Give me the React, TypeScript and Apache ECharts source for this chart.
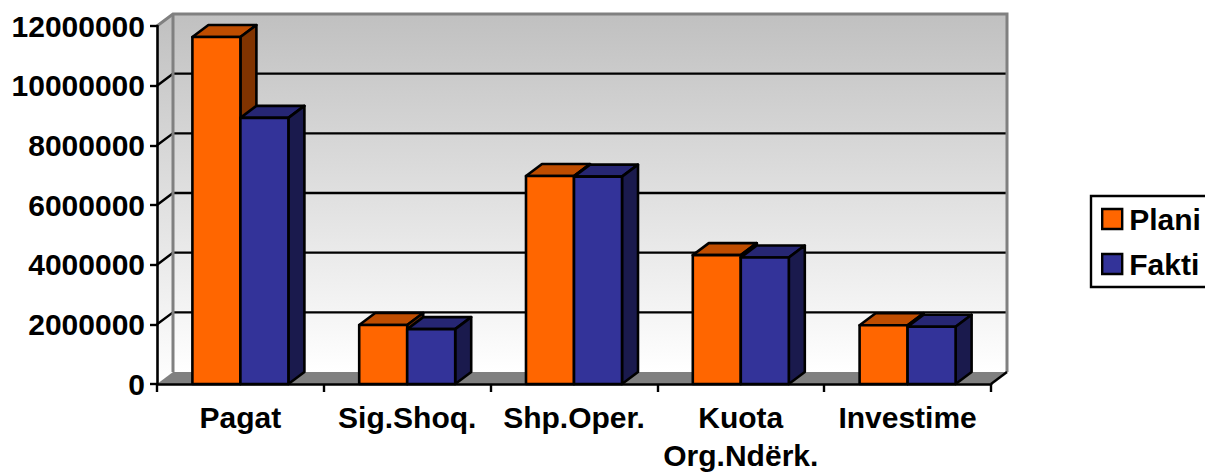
import React, { useEffect, useRef } from "react";
import * as echarts from "echarts";

const categories = ["Pagat", "Sig.Shoq.", "Shp.Oper.", "Kuota\nOrg.Ndërk.", "Investime"];
const plani = [11630000, 1980000, 6970000, 4320000, 1970000];
const fakti = [8920000, 1840000, 6950000, 4240000, 1920000];
const gridTicks = [2000000, 4000000, 6000000, 8000000, 10000000];

const DX = 16;
const DY = -12;
const BAR_W = 48;
const FONT = '"Liberation Sans", Arial, sans-serif';

const wallGradient = () =>
  new echarts.graphic.LinearGradient(0, 0, 0, 1, [
    { offset: 0, color: "#C0C0C0" },
    { offset: 1, color: "#FFFFFF" },
  ]);

function barRenderer(front: string, top: string, side: string, slot: number) {
  return (_: any, api: any) => {
    const idx = api.value(0);
    const [cx, yTop] = api.coord([idx, api.value(1)]);
    const [, yBase] = api.coord([idx, 0]);
    const x0 = cx + (slot - 1) * BAR_W;
    const x1 = x0 + BAR_W;
    const line = { stroke: "#000", lineWidth: 2.6, lineJoin: "round" };
    return {
      type: "group",
      children: [
        { type: "polygon", shape: { points: [[x0, yTop], [x1, yTop], [x1 + DX, yTop + DY], [x0 + DX, yTop + DY]] }, style: { fill: top, ...line } },
        { type: "polygon", shape: { points: [[x1, yTop], [x1 + DX, yTop + DY], [x1 + DX, yBase + DY], [x1, yBase]] }, style: { fill: side, ...line } },
        { type: "polygon", shape: { points: [[x0, yTop], [x1, yTop], [x1, yBase], [x0, yBase]] }, style: { fill: front, ...line } },
      ],
    };
  };
}

function wallRenderer(params: any, api: any) {
  const { x, y, width, height } = params.coordSys;
  const b = y + height;
  const r = x + width;
  const gray = { stroke: "#808080", lineWidth: 3 };
  const grid = gridTicks.map((t) => {
    const py = api.coord([0, t])[1];
    return {
      type: "polyline",
      shape: { points: [[x, py], [x + DX, py + DY], [r + DX, py + DY]] },
      style: { fill: "none", stroke: "#000", lineWidth: 2.4 },
    };
  });
  return {
    type: "group",
    children: [
      { type: "polygon", shape: { points: [[x + DX, y + DY], [r + DX, y + DY], [r + DX, b + DY], [x + DX, b + DY]] }, style: { fill: wallGradient() } },
      { type: "polygon", shape: { points: [[x, y], [x + DX, y + DY], [x + DX, b + DY], [x, b]] }, style: { fill: wallGradient() } },
      ...grid,
      { type: "polyline", shape: { points: [[x, y], [x + DX, y + DY], [r + DX, y + DY], [r + DX, b + DY]] }, style: { fill: "none", ...gray } },
      { type: "line", shape: { x1: x + DX, y1: y + DY, x2: x + DX, y2: b + DY }, style: { ...gray } },
      { type: "polygon", shape: { points: [[x, b], [x + DX, b + DY], [r + DX, b + DY], [r, b]] }, style: { fill: "#808080" } },
      { type: "line", shape: { x1: r, y1: b, x2: r + DX, y2: b + DY }, style: { stroke: "#000", lineWidth: 2.4 } },
    ],
  };
}

export default function App() {
  const ref = useRef<HTMLDivElement>(null);
  useEffect(() => {
    document.body.style.margin = "0";
    const chart = echarts.init(ref.current!, undefined, { renderer: "svg" });
    chart.setOption({
      animation: false,
      backgroundColor: "#fff",
      textStyle: { fontFamily: FONT },
      grid: { left: 157, top: 26, width: 834, height: 358, outerBoundsMode: "none", containLabel: false },
      legend: {
        data: ["Plani", "Fakti"],
        orient: "vertical",
        left: 1091,
        top: 196,
        padding: [8, 30, 8, 10],
        itemGap: 15,
        itemWidth: 20,
        itemHeight: 20,
        icon: "rect",
        borderColor: "#000",
        borderWidth: 2.4,
        backgroundColor: "#fff",
        textStyle: { color: "#000", fontSize: 30, fontWeight: "bold", fontFamily: FONT, padding: [0, 0, 0, 2] },
        itemStyle: { borderColor: "#000", borderWidth: 2.4 },
      },
      xAxis: {
        type: "category",
        data: categories,
        axisLine: { show: true, lineStyle: { color: "#000", width: 2.6 } },
        axisTick: { show: true, length: 8, lineStyle: { color: "#000", width: 2.4 } },
        axisLabel: { color: "#000", fontSize: 30, fontWeight: "bold", fontFamily: FONT, margin: 14, lineHeight: 38, interval: 0 },
        z: 5,
      },
      yAxis: {
        type: "value",
        min: 0,
        max: 12000000,
        interval: 2000000,
        splitLine: { show: false },
        axisLine: { show: true, lineStyle: { color: "#000", width: 2.6 } },
        axisTick: { show: true, length: 7, lineStyle: { color: "#000", width: 2.4 } },
        axisLabel: { color: "#000", fontSize: 30, fontWeight: "bold", fontFamily: FONT, margin: 12, formatter: (v: number) => String(v) },
        z: 5,
      },
      series: [
        { name: "walls", type: "custom", coordinateSystem: "cartesian2d", data: [[0, 0]], renderItem: wallRenderer, clip: false, silent: true, z: 1 },
        {
          name: "Plani",
          type: "custom",
          coordinateSystem: "cartesian2d",
          data: plani.map((v, i) => [i, v]),
          renderItem: barRenderer("#FF6600", "#BF4D00", "#803300", 0),
          itemStyle: { color: "#FF6600" },
          encode: { x: 0, y: 1 },
          clip: false,
          z: 2,
        },
        {
          name: "Fakti",
          type: "custom",
          coordinateSystem: "cartesian2d",
          data: fakti.map((v, i) => [i, v]),
          renderItem: barRenderer("#333399", "#262673", "#1A1A4D", 1),
          itemStyle: { color: "#333399" },
          encode: { x: 0, y: 1 },
          clip: false,
          z: 3,
        },
      ],
    });
    return () => chart.dispose();
  }, []);
  return <div ref={ref} style={{ width: 1205, height: 472, overflow: "hidden" }} />;
}
